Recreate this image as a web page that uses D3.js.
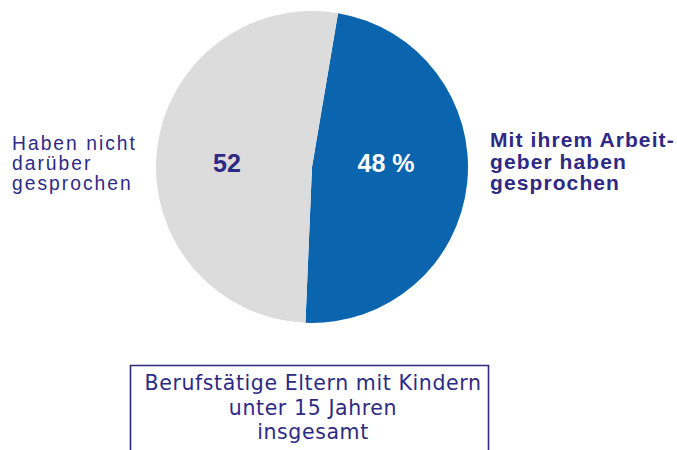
<!DOCTYPE html>
<html><head><meta charset="utf-8">
<script src="https://cdn.jsdelivr.net/npm/d3@7"></script>
<style>html,body{margin:0;padding:0;background:#fff}</style>
</head><body>
<svg id="c" width="677" height="450"></svg>
<script>
const categories = ["Mit ihrem Arbeitgeber haben gesprochen", "Haben nicht darüber gesprochen"];
const values = [48, 52];
const valueLabels = ["48 %", "52"];
const labelLines = [["Mit ihrem Arbeit-", "geber haben", "gesprochen"], ["Haben nicht", "darüber", "gesprochen"]];
const baseLines = ["Berufstätige Eltern mit Kindern", "unter 15 Jahren", "insgesamt"];

const svg = d3.select("#c");
const cx = 312, cy = 167, r = 156;
const ink = "#2e2a84";
const color = d3.scaleOrdinal().domain(categories).range(["#0a64ae", "#dcdcdc"]);
const start = 9.6 * Math.PI / 180;
const pie = d3.pie().sort(null).value(d => d).startAngle(start).endAngle(start + 2 * Math.PI);
const arcs = pie(values);
const arc = d3.arc().innerRadius(0).outerRadius(r);
const g = svg.append("g").attr("transform", `translate(${cx},${cy})`);
g.selectAll("path").data(arcs).join("path")
  .attr("d", arc).attr("fill", (d, i) => color(categories[i]));

// value labels
const valPos = [[74, 5], [-85, 5]];
g.selectAll("text.v").data(arcs).join("text")
  .attr("class", "v")
  .attr("x", (d, i) => valPos[i][0]).attr("y", (d, i) => valPos[i][1])
  .attr("text-anchor", "middle")
  .attr("font-family", "Liberation Sans, Arial, sans-serif")
  .attr("font-weight", "bold").attr("font-size", 25)
  .attr("fill", (d, i) => i === 0 ? "#ffffff" : ink)
  .text((d, i) => valueLabels[i]);

// side labels
const side = [
  {x: 490, y0: 147, dy: 21.5, bold: true, size: 21, ls: 1.1},
  {x: 12, y0: 150, dy: 19.8, bold: false, size: 19.3, ls: 2.0}
];
side.forEach((s, i) => {
  const t = svg.append("text")
    .attr("font-family", "Liberation Sans, Arial, sans-serif")
    .attr("font-size", s.size)
    .attr("letter-spacing", s.ls)
    .attr("font-weight", s.bold ? "bold" : "normal")
    .attr("fill", ink);
  labelLines[i].forEach((line, k) => {
    t.append("tspan").attr("x", s.x).attr("y", s.y0 + k * s.dy).text(line);
  });
});

// bottom box
svg.append("path")
  .attr("d", "M130.5,452 V365.5 H488.5 V452")
  .attr("fill", "none").attr("stroke", ink).attr("stroke-width", 1.6);
const bt = svg.append("text")
  .attr("font-family", "DejaVu Sans, sans-serif")
  .attr("font-size", 20.5)
  .attr("letter-spacing", 0.6)
  .attr("text-anchor", "middle")
  .attr("fill", ink);
baseLines.forEach((line, k) => {
  bt.append("tspan").attr("x", 313).attr("y", 390 + k * 24.5).text(line);
});
</script>
</body></html>
